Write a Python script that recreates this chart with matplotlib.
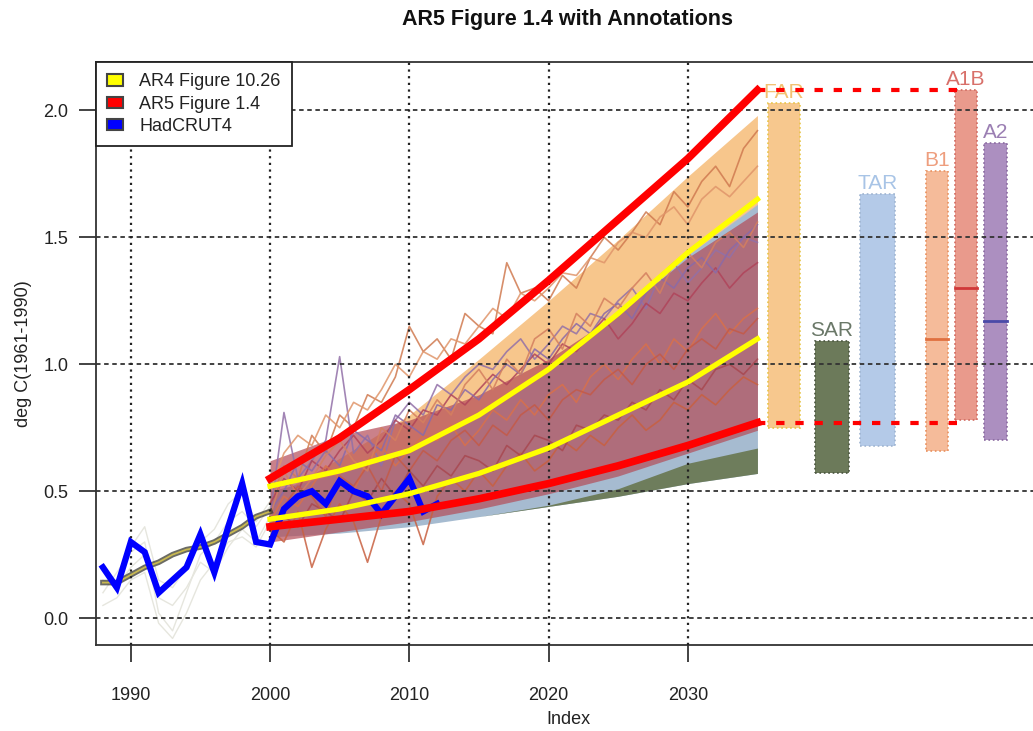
import matplotlib.pyplot as plt
from matplotlib.patches import Patch

plt.rcParams['font.family'] = 'Liberation Sans'

#### data

# HadCRUT4 annual anomaly
hadYears = list(range(1988, 2013))
hadTemp = [0.20, 0.12, 0.30, 0.26, 0.10, 0.15, 0.20, 0.33, 0.18, 0.36, 0.53, 0.30, 0.29,
           0.43, 0.48, 0.50, 0.45, 0.54, 0.50, 0.48, 0.41, 0.48, 0.55, 0.42, 0.45]

# hindcast runs (faint grey) and their mean
histYears = list(range(1988, 2001))
histRuns = [
    [0.15, 0.12, 0.20, 0.25, 0.08, 0.05, 0.12, 0.22, 0.18, 0.28, 0.35, 0.30, 0.40],
    [0.10, 0.18, 0.26, 0.30, 0.02, -0.05, 0.10, 0.25, 0.30, 0.38, 0.42, 0.36, 0.44],
    [0.20, 0.14, 0.28, 0.36, 0.15, 0.12, 0.20, 0.30, 0.35, 0.45, 0.50, 0.38, 0.46],
    [0.05, 0.08, 0.15, 0.18, -0.02, -0.08, 0.02, 0.15, 0.22, 0.30, 0.32, 0.28, 0.38],
]
histMean = [0.14, 0.14, 0.17, 0.20, 0.22, 0.25, 0.27, 0.28, 0.30, 0.33, 0.36, 0.40, 0.42]

# envelopes and bounds, every 5 years
projYears = [2000, 2005, 2010, 2015, 2020, 2025, 2030, 2035]
ar5Upper = [0.55, 0.71, 0.90, 1.10, 1.33, 1.57, 1.81, 2.08]
ar5Lower = [0.36, 0.39, 0.42, 0.47, 0.53, 0.60, 0.68, 0.77]
ar4Upper = [0.52, 0.58, 0.66, 0.80, 0.98, 1.20, 1.44, 1.65]
ar4Lower = [0.39, 0.43, 0.49, 0.57, 0.67, 0.80, 0.93, 1.10]
farTop = [0.47, 0.63, 0.80, 1.02, 1.25, 1.49, 1.74, 1.98]
farLow = [0.40, 0.44, 0.48, 0.53, 0.58, 0.63, 0.69, 0.75]
tarTop = [0.50, 0.57, 0.65, 0.79, 0.97, 1.19, 1.43, 1.63]
sarTop = [0.32, 0.335, 0.36, 0.40, 0.445, 0.51, 0.61, 0.67]
envBottom = [0.32, 0.335, 0.36, 0.40, 0.44, 0.48, 0.53, 0.57]
runsTop = [0.62, 0.72, 0.78, 0.88, 1.02, 1.20, 1.42, 1.60]
runsLow = [0.30, 0.34, 0.38, 0.43, 0.49, 0.56, 0.65, 0.74]

# AR4 model runs, annual 2000-2035
runYears = list(range(2000, 2036))
runs = [
    [0.45, 0.60, 0.55, 0.72, 0.65, 0.80, 0.75, 0.88, 0.85, 0.95, 1.15, 1.05, 1.10, 1.02, 1.20, 1.15, 1.12, 1.40,
     1.28, 1.30, 1.25, 1.35, 1.30, 1.42, 1.50, 1.45, 1.52, 1.60, 1.55, 1.68, 1.62, 1.72, 1.78, 1.70, 1.85, 1.92],
    [0.40, 0.81, 0.55, 0.62, 0.70, 1.03, 0.65, 0.72, 0.60, 0.78, 0.85, 0.80, 0.92, 0.88, 0.95, 1.00, 0.98, 1.05,
     1.10, 1.02, 1.08, 1.15, 1.12, 1.20, 1.18, 1.25, 1.30, 1.22, 1.35, 1.40, 1.32, 1.38, 1.45, 1.42, 1.50, 1.48],
    [0.35, 0.30, 0.42, 0.20, 0.35, 0.45, 0.38, 0.22, 0.40, 0.50, 0.45, 0.29, 0.48, 0.55, 0.50, 0.58, 0.52, 0.60,
     0.65, 0.58, 0.62, 0.70, 0.66, 0.72, 0.68, 0.75, 0.80, 0.74, 0.78, 0.85, 0.82, 0.88, 0.84, 0.90, 0.95, 0.92],
    [0.45, 0.55, 0.50, 0.62, 0.58, 0.66, 0.72, 0.65, 0.70, 0.78, 0.74, 0.82, 0.80, 0.88, 0.84, 0.90, 0.96, 0.92,
     0.98, 1.04, 1.00, 1.08, 1.05, 1.12, 1.18, 1.10, 1.16, 1.24, 1.20, 1.28, 1.25, 1.32, 1.38, 1.30, 1.36, 1.40],
    [0.38, 0.48, 0.44, 0.52, 0.60, 0.55, 0.50, 0.62, 0.68, 0.60, 0.66, 0.72, 0.70, 0.76, 0.68, 0.74, 0.82, 0.78,
     0.86, 0.80, 0.88, 0.92, 0.85, 0.95, 1.00, 0.94, 1.02, 1.08, 1.00, 1.10, 1.05, 1.14, 1.20, 1.12, 1.18, 1.22],
    [0.32, 0.40, 0.36, 0.45, 0.42, 0.38, 0.50, 0.46, 0.55, 0.48, 0.58, 0.52, 0.60, 0.56, 0.64, 0.62, 0.58, 0.68,
     0.64, 0.72, 0.70, 0.66, 0.76, 0.74, 0.80, 0.78, 0.85, 0.82, 0.90, 0.86, 0.94, 0.90, 0.98, 1.00, 0.96, 1.02],
    [0.50, 0.65, 0.72, 0.68, 0.80, 0.75, 0.85, 0.82, 0.90, 1.00, 0.95, 1.05, 1.02, 1.10, 1.08, 1.15, 1.22, 1.18,
     1.28, 1.25, 1.30, 1.36, 1.35, 1.42, 1.40, 1.48, 1.52, 1.50, 1.58, 1.62, 1.55, 1.65, 1.70, 1.66, 1.72, 1.78],
    [0.42, 0.50, 0.62, 0.58, 0.66, 0.60, 0.74, 0.70, 0.66, 0.80, 0.76, 0.72, 0.84, 0.82, 0.90, 0.86, 0.94, 1.00,
     0.96, 1.06, 1.02, 1.10, 1.16, 1.12, 1.20, 1.24, 1.18, 1.28, 1.34, 1.30, 1.38, 1.42, 1.36, 1.45, 1.50, 1.55],
    [0.36, 0.44, 0.52, 0.48, 0.40, 0.56, 0.52, 0.60, 0.50, 0.64, 0.58, 0.66, 0.62, 0.70, 0.74, 0.68, 0.76, 0.72,
     0.80, 0.84, 0.78, 0.86, 0.90, 0.88, 0.94, 0.98, 0.92, 1.00, 1.04, 0.98, 1.06, 1.10, 1.06, 1.14, 1.12, 1.18],
    [0.40, 0.58, 0.48, 0.55, 0.64, 0.70, 0.62, 0.58, 0.75, 0.70, 0.82, 0.77, 0.86, 0.80, 0.92, 0.98, 0.90, 1.02,
     0.96, 1.10, 1.14, 1.06, 1.20, 1.15, 1.26, 1.22, 1.30, 1.36, 1.28, 1.40, 1.44, 1.38, 1.48, 1.52, 1.46, 1.56],
]
runColors = ['#d07a50', '#9270a8', '#c86040', '#b0445a', '#d9704a',
             '#a84850', '#e0956a', '#8a6aa8', '#c45a48', '#d47f5f']

# 2035 ranges of the assessment reports / scenarios
barNames = ['FAR', 'SAR', 'TAR', 'B1', 'A1B', 'A2']
barLow = [0.75, 0.57, 0.68, 0.66, 0.78, 0.70]
barHigh = [2.03, 1.09, 1.67, 1.76, 2.08, 1.87]
barMedian = [None, None, None, 1.10, 1.30, 1.17]

barX = [2036.9, 2040.35, 2043.6, 2047.9, 2049.97, 2052.1]
barW = [2.3, 2.5, 2.5, 1.6, 1.6, 1.6]
barFace = ['#f7c88e', '#6c7a5a', '#b4cae8', '#f5bb9a', '#e99a8c', '#ac8fc0']
barEdge = ['#e8c548', '#4a5540', '#9fb4d0', '#e8905e', '#d06a60', '#8a6aa0']
barText = ['#f2c272', '#6a7868', '#a8c4e6', '#ee9e7e', '#d8706a', '#9b7fb3']
medColor = [None, None, None, '#e07040', '#d03838', '#4a4aa8']

#### plot
fig = plt.figure(figsize=(10.33, 7.31), dpi=100)
ax = fig.add_axes([0.0929, 0.1176, 0.914, 0.797])

for run in histRuns:
    ax.plot(histYears, run, color='#e6e6de', lw=1.0, zorder=1)

# envelopes
ax.fill_between(projYears, farLow, farTop, color='#f7c68c', lw=0, zorder=2)
ax.fill_between(projYears, envBottom, tarTop, color='#a6bbd0', lw=0, zorder=2.1)
ax.fill_between(projYears, envBottom, sarTop, color='#6e7d5c', lw=0, zorder=2.2)
ax.fill_between(projYears, runsLow, runsTop, color='#b44c58', alpha=0.7, lw=0, zorder=2.5)

for run, c in zip(runs, runColors):
    ax.plot(runYears, run, color=c, lw=1.2, alpha=0.85, zorder=3)

ax.plot(histYears, histMean, color='#3a3a30', lw=4, alpha=0.75, zorder=3.5)
ax.plot(histYears, histMean, color='#c8b850', lw=1.3, zorder=3.6)

# range bars on the right
for i in range(len(barNames)):
    ax.bar(barX[i], barHigh[i] - barLow[i], bottom=barLow[i], width=barW[i],
           color=barFace[i], edgecolor=barEdge[i], linestyle=':', lw=1.2, zorder=3)
    if barMedian[i] is not None:
        ax.plot([barX[i] - barW[i] / 2, barX[i] + barW[i] / 2], [barMedian[i]] * 2,
                color=medColor[i], lw=2, zorder=3.2)
    ax.text(barX[i], barHigh[i] + 0.005, barNames[i], color=barText[i], fontsize=15,
            ha='center', va='bottom', zorder=3.3)

# grid on top of the fills
for y in [0.0, 0.5, 1.0, 1.5, 2.0]:
    ax.axhline(y, color='#333333', lw=1.3, linestyle=(0, (2.5, 2)), zorder=4)
for x in [1990, 2000, 2010, 2020, 2030]:
    ax.axvline(x, color='#222222', lw=1.6, linestyle=(0, (1, 2)), zorder=4)

ax.plot(hadYears, hadTemp, color='#0000ff', lw=4.5, zorder=5, solid_joinstyle='miter')
ax.plot(projYears, ar4Upper, color='#ffff00', lw=3.8, zorder=6)
ax.plot(projYears, ar4Lower, color='#ffff00', lw=3.8, zorder=6)
ax.plot(projYears, ar5Upper, color='#ff0000', lw=5.5, zorder=7)
ax.plot(projYears, ar5Lower, color='#ff0000', lw=5.5, zorder=7)
ax.plot([2035, 2049.5], [ar5Upper[-1]] * 2, color='#ff0000', lw=3, linestyle=(0, (2, 2.6)), zorder=7)
ax.plot([2035, 2049.5], [ar5Lower[-1]] * 2, color='#ff0000', lw=3, linestyle=(0, (2, 2.6)), zorder=7)

ax.set_xlim(1987.5, 2055.3)
ax.set_ylim(-0.106, 2.189)
ax.set_xticks([1990, 2000, 2010, 2020, 2030])
ax.set_yticks([0.0, 0.5, 1.0, 1.5, 2.0])
ax.set_yticklabels(['0.0', '0.5', '1.0', '1.5', '2.0'])
ax.tick_params(direction='out', length=12, width=1.2, labelsize=13, colors='#222222')
ax.tick_params(axis='x', pad=18)
ax.tick_params(axis='y', pad=8)
for s in ax.spines.values():
    s.set_linewidth(1.3)
    s.set_color('#333333')

ax.set_xlabel('Index', fontsize=13, color='#222222')
ax.xaxis.set_label_coords(0.5, -0.113)
ax.set_ylabel('deg C(1961-1990)', fontsize=13, color='#222222')
ax.yaxis.set_label_coords(-0.068, 0.5)

fig.text(568 / 1033, 1 - 20 / 731, 'AR5 Figure 1.4 with Annotations', ha='center', va='center',
         fontsize=15.5, fontweight='bold', color='#111111')

handles = [Patch(facecolor='#ffff00', edgecolor='#444444', lw=1.5),
           Patch(facecolor='#ff0000', edgecolor='#444444', lw=1.5),
           Patch(facecolor='#0000ff', edgecolor='#444444', lw=1.5)]
leg = ax.legend(handles, ['AR4 Figure 10.26', 'AR5 Figure 1.4', 'HadCRUT4'], loc='upper left',
                bbox_to_anchor=(0, 1), borderaxespad=0, fontsize=13, frameon=True, fancybox=False,
                edgecolor='#222222', framealpha=1, handlelength=0.9, handleheight=0.6,
                handletextpad=0.9, labelspacing=0.3, borderpad=0.6)
leg.get_frame().set_linewidth(1.3)
leg.set_zorder(10)
for t in leg.get_texts():
    t.set_color('#222222')

fig.savefig('out.png', dpi=100)
